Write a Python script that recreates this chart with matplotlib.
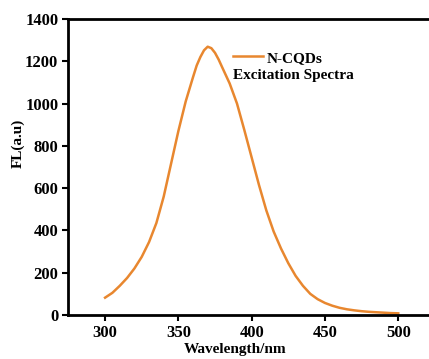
#!/usr/bin/python

import matplotlib.pyplot as plt

plt.rcParams["font.family"] = "Liberation Serif"
plt.rcParams["font.weight"] = "bold"

# excitation spectrum
wavelength = [300, 305, 310, 315, 320, 325, 330, 335, 340, 345,
              350, 355, 360, 362.5, 365, 367.5, 370, 372.5, 375, 377.5,
              380, 385, 390, 395, 400, 405, 410, 415, 420, 425,
              430, 435, 440, 445, 450, 455, 460, 465, 470, 475,
              480, 485, 490, 495, 500]
intensity = [82, 105, 138, 175, 220, 275, 345, 435, 560, 715,
             870, 1010, 1125, 1180, 1220, 1252, 1269, 1262, 1240, 1208,
             1170, 1095, 1000, 875, 745, 615, 495, 395, 315, 245,
             185, 138, 100, 75, 57, 44, 34, 27, 22, 18,
             15, 13, 11, 9, 8]

xticks = [300, 350, 400, 450, 500]
yticks = [0, 200, 400, 600, 800, 1000, 1200, 1400]


def main():
  fig = plt.figure(figsize=(4.29, 3.59), dpi=100)
  ax = fig.add_axes([68/429, 1 - 315/359, 361/429, 296/359])

  ax.plot(wavelength, intensity, color='#E8872F', lw=1.8, label='N-CQDs')

  ax.set_xlim(274.7, 521)
  ax.set_ylim(0, 1400)
  ax.set_xticks(xticks)
  ax.set_yticks(yticks)
  ax.tick_params(labelsize=12, width=1.5, length=4, pad=3)
  ax.spines['right'].set_visible(False)
  for s in ('left', 'bottom', 'top'):
    ax.spines[s].set_linewidth(2)

  ax.set_xlabel('Wavelength/nm', fontsize=11, fontweight='bold')
  ax.set_ylabel('FL(a.u)', fontsize=11, fontweight='bold')
  ax.xaxis.set_label_coords(0.463, -0.095)
  ax.yaxis.set_label_coords(-0.119, 0.58)

  ax.legend(loc='upper left', bbox_to_anchor=(0.456, 0.892), frameon=False,
            fontsize=11, handlelength=2.0, handletextpad=0.2,
            borderaxespad=0, borderpad=0)
  ax.text(0.457, 0.808, 'Excitation Spectra', transform=ax.transAxes,
          fontsize=11, fontweight='bold', va='center')

  fig.savefig('out.png', dpi=100)


if __name__ == "__main__":
  main()
